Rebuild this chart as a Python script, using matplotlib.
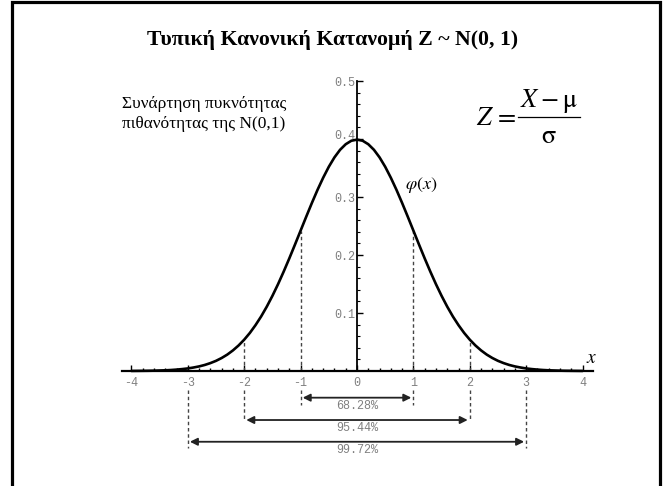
import matplotlib.pyplot as plt
import matplotlib.transforms as mtransforms
from matplotlib.lines import Line2D
from matplotlib.ticker import FixedLocator

plt.rcParams['mathtext.fontset'] = 'stix'

# curve values (phi(x) of the standard normal)
curve_x = [-4.0, -3.9, -3.8, -3.7, -3.6, -3.5, -3.4, -3.3, -3.2, -3.1,
           -3.0, -2.9, -2.8, -2.7, -2.6, -2.5, -2.4, -2.3, -2.2, -2.1,
           -2.0, -1.9, -1.8, -1.7, -1.6, -1.5, -1.4, -1.3, -1.2, -1.1,
           -1.0, -0.9, -0.8, -0.7, -0.6, -0.5, -0.4, -0.3, -0.2, -0.1,
           0.0, 0.1, 0.2, 0.3, 0.4, 0.5, 0.6, 0.7, 0.8, 0.9,
           1.0, 1.1, 1.2, 1.3, 1.4, 1.5, 1.6, 1.7, 1.8, 1.9,
           2.0, 2.1, 2.2, 2.3, 2.4, 2.5, 2.6, 2.7, 2.8, 2.9,
           3.0, 3.1, 3.2, 3.3, 3.4, 3.5, 3.6, 3.7, 3.8, 3.9, 4.0]
curve_y = [0.0001, 0.0002, 0.0003, 0.0004, 0.0006, 0.0009, 0.0012, 0.0017, 0.0024, 0.0033,
           0.0044, 0.0060, 0.0079, 0.0104, 0.0136, 0.0175, 0.0224, 0.0283, 0.0355, 0.0440,
           0.0540, 0.0656, 0.0790, 0.0940, 0.1109, 0.1295, 0.1497, 0.1714, 0.1942, 0.2179,
           0.2420, 0.2661, 0.2897, 0.3123, 0.3332, 0.3521, 0.3683, 0.3814, 0.3910, 0.3970,
           0.3989, 0.3970, 0.3910, 0.3814, 0.3683, 0.3521, 0.3332, 0.3123, 0.2897, 0.2661,
           0.2420, 0.2179, 0.1942, 0.1714, 0.1497, 0.1295, 0.1109, 0.0940, 0.0790, 0.0656,
           0.0540, 0.0440, 0.0355, 0.0283, 0.0224, 0.0175, 0.0136, 0.0104, 0.0079, 0.0060,
           0.0044, 0.0033, 0.0024, 0.0017, 0.0012, 0.0009, 0.0006, 0.0004, 0.0003, 0.0002, 0.0001]

x_ticks = [-4, -3, -2, -1, 0, 1, 2, 3, 4]
y_ticks = [0.1, 0.2, 0.3, 0.4, 0.5]

sigma = [1, 2, 3]
sigma_height = [0.242, 0.054, 0.0]
coverage = ["68.28%", "95.44%", "99.72%"]

W, H = 667, 486
fig = plt.figure(figsize=(W / 100, H / 100), dpi=100)
ax = fig.add_axes([0, 0, 1, 1])
ax.patch.set_visible(False)

# pixel layout: x=0 at 357px, 56.4 px per unit; y=0 at 371px, 580 px per unit
ax.set_xlim(-357 / 56.4, (W - 357) / 56.4)
ax.set_ylim(-(H - 371) / 580, 371 / 580)

ax.plot(curve_x, curve_y, color='black', lw=1.9, solid_capstyle='round', zorder=3)

# axes through the origin
for s in ['top', 'right']:
    ax.spines[s].set_visible(False)
ax.spines['bottom'].set_position(('data', 0))
ax.spines['bottom'].set_bounds(-4.17, 4.18)
ax.spines['bottom'].set_linewidth(1.6)
ax.spines['left'].set_position(('data', 0))
ax.spines['left'].set_bounds(0, 0.5)
ax.spines['left'].set_linewidth(1.3)

tick_font = dict(family='Liberation Mono', size=8.5)
ax.set_xticks(x_ticks)
ax.set_xticklabels([str(t) for t in x_ticks], fontdict=tick_font, color='#808080')
ax.xaxis.set_minor_locator(FixedLocator([round(i * 0.2, 1) for i in range(-20, 21)]))
ax.set_yticks(y_ticks)
ax.set_yticklabels([str(t) for t in y_ticks], fontdict=tick_font, color='#808080')
ax.yaxis.set_minor_locator(FixedLocator([round(i * 0.02, 2) for i in range(1, 26)]))
ax.tick_params(axis='x', which='major', direction='in', length=4.5, width=1, pad=4)
ax.tick_params(axis='x', which='minor', direction='in', length=2.5, width=1)
ax.tick_params(axis='y', which='major', direction='in', length=4, width=1, pad=1.5)
ax.tick_params(axis='y', which='minor', direction='in', length=2.2, width=0.8)

# the 0.4 label sits a little higher, clear of the curve
lab04 = ax.get_yticklabels()[3]
lab04.set_transform(lab04.get_transform() +
                    mtransforms.ScaledTranslation(0, 5 / 100, fig.dpi_scale_trans))

# dashed sigma lines and range arrows
dash_bottom = [-0.059, -0.086, -0.133]
arrow_y = [-0.046, -0.0845, -0.122]
label_y = [-0.06, -0.098, -0.136]
for s, h, yb, ya, yl, lab in zip(sigma, sigma_height, dash_bottom, arrow_y, label_y, coverage):
    for sx in (-s, s):
        if h > 0:
            ax.plot([sx, sx], [0, h], ls=(0, (2.5, 2)), color='#444444', lw=1)
        ax.plot([sx, sx], [-0.032, yb], ls=(0, (2.5, 2)), color='#444444', lw=1)
    ax.annotate('', xy=(-s, ya), xytext=(s, ya),
                arrowprops=dict(arrowstyle='<|-|>', color='#222222', lw=1.3,
                                shrinkA=1.5, shrinkB=1.5, mutation_scale=11))
    ax.text(0, yl, lab, ha='center', va='center', color='#808080',
            family='Liberation Mono', fontsize=8.5)

# texts
fig.text(333 / W, 1 - 40 / H, 'Τυπική Κανονική Κατανομή Z ~ N(0, 1)',
         ha='center', va='center', family='Liberation Serif', fontweight='bold', fontsize=15.7)
fig.text(122 / W, 1 - 114 / H, 'Συνάρτηση πυκνότητας\nπιθανότητας της N(0,1)',
         ha='left', va='center', family='Liberation Serif', fontsize=12.5, linespacing=1.25)

# Z = (X - mu) / sigma
fig.text(476 / W, 1 - 125 / H, r'$Z\,=$', ha='left', va='baseline', fontsize=19)
fig.text(549 / W, 1 - 107 / H, r'$X-\mathrm{\mu}$', ha='center', va='baseline', fontsize=19)
fig.add_artist(Line2D([518 / W, 580 / W], [1 - 117 / H, 1 - 117 / H],
                      transform=fig.transFigure, color='black', lw=0.9))
fig.text(549 / W, 1 - 143 / H, r'$\mathrm{\sigma}$', ha='center', va='baseline', fontsize=19)

fig.text(405 / W, 1 - 185 / H, r'$\varphi(x)$', ha='left', va='center', fontsize=13)
fig.text(592 / W, 1 - 357 / H, r'$x$', ha='center', va='center', fontsize=14)

# outer frame
fig.add_artist(plt.Rectangle((11.7 / W, -0.05), (660 - 11.7) / W, 1.05 - 1.7 / H,
                             transform=fig.transFigure, fill=False, lw=2.3, edgecolor='black'))

fig.savefig('out.png', dpi=100)
